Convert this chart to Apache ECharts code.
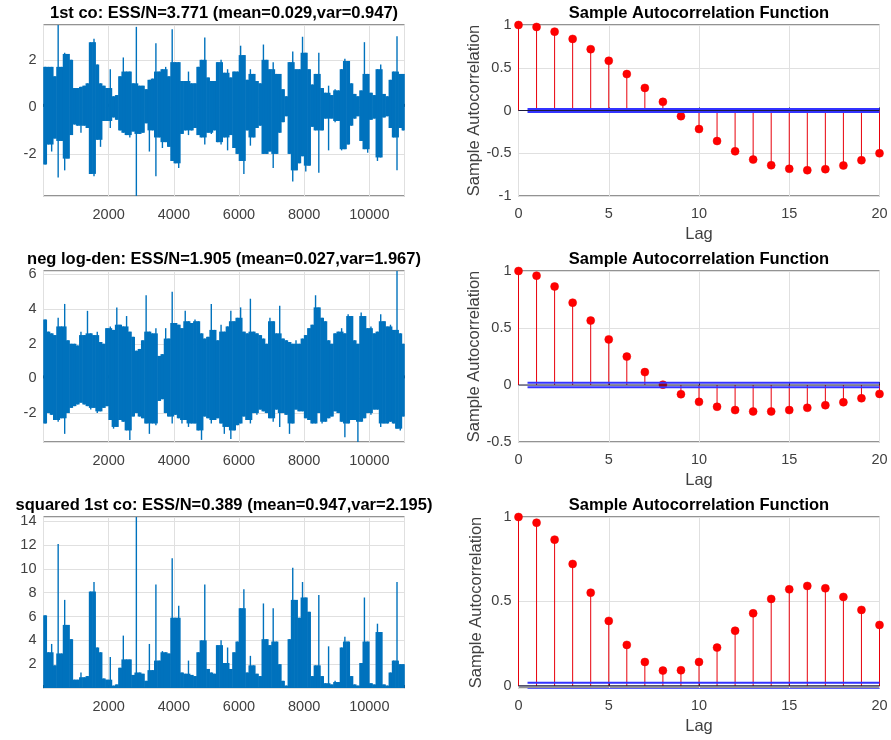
<!DOCTYPE html>
<html>
<head>
<meta charset="utf-8">
<script src="https://cdn.jsdelivr.net/npm/echarts@6/dist/echarts.min.js"></script>
<style>
html,body{margin:0;padding:0;background:#ffffff;}
#c{width:891px;height:740px;}
</style>
</head>
<body>
<div id="c"></div>
<script>
// ---------------- DATA ----------------
// Time series are summarised per bin of 100 samples: bin maximum and bin minimum.
const binSize = 100;
const lastSample = 11080;

const titlesLeft = [
  '1st co: ESS/N=3.771 (mean=0.029,var=0.947)',
  'neg log-den: ESS/N=1.905 (mean=0.027,var=1.967)',
  'squared 1st co: ESS/N=0.389 (mean=0.947,var=2.195)'
];
const titleRight = 'Sample Autocorrelation Function';

// 1st co
const hi1 = [
  1.7, 1.7, 1.7, 1.3, 3.48, 1.7, 2.3, 2.25, 2.0, 0.8,
  0.8, 0.85, 0.9, 1.0, 2.75, 2.9, 1.8, 1.0, 0.9, 0.8,
  1.6, 0.45, 0.5, 1.3, 2.1, 1.5, 1.5, 1.0, 3.4, 0.9,
  0.9, 0.75, 1.15, 1.2, 2.7, 1.5, 1.6, 1.7, 1.3, 3.3,
  1.9, 1.9, 1.1, 1.1, 1.5, 1.0, 1.0, 1.7, 2.0, 2.95,
  1.25, 1.1, 1.1, 1.9, 2.0, 1.45, 1.6, 1.25, 1.5, 1.5,
  2.6, 2.2, 1.15, 1.6, 1.4, 1.1, 1.0, 2.65, 2.0, 1.6,
  1.9, 1.4, 1.4, 0.75, 0.45, 1.9, 2.35, 1.6, 1.6, 2.98,
  2.3, 1.6, 0.95, 1.4, 2.3, 0.8, 0.6, 0.9, 0.5, 0.75,
  0.7, 1.6, 2.05, 1.95, 1.0, 0.55, 0.45, 0.7, 2.75, 1.4,
  0.6, 0.5, 1.6, 1.8, 0.55, 0.45, 1.15, 1.5, 3.0, 1.4, 1.4
];
const lo1 = [
  -2.45, -1.6, -1.9, -1.35, -3.0, -1.45, -2.7, -2.2, -1.2, -0.75,
  -0.8, -1.1, -0.8, -0.9, -2.85, -2.95, -1.4, -1.7, -0.6, -0.6,
  -0.9, -0.45, -0.55, -1.0, -1.1, -1.2, -1.3, -1.05, -3.79, -1.15,
  -1.1, -0.7, -1.9, -1.0, -2.95, -1.3, -1.75, -1.5, -1.7, -2.3,
  -2.4, -2.6, -1.15, -1.0, -1.2, -1.0, -0.9, -1.2, -1.3, -1.6,
  -1.1, -1.15, -1.0, -1.5, -1.6, -1.3, -1.85, -1.2, -1.75, -2.0,
  -2.3, -2.85, -1.0, -1.65, -1.3, -0.9, -0.8, -2.0, -2.0, -1.9,
  -2.6, -2.0, -1.1, -0.65, -0.4, -2.0, -3.17, -2.7, -2.4, -2.1,
  -2.75, -2.5, -0.85, -1.0, -2.8, -1.0, -0.5, -1.85, -0.5, -0.65,
  -0.6, -1.85, -1.8, -1.6, -0.8, -0.5, -0.4, -1.45, -1.8, -1.95,
  -0.55, -0.5, -2.3, -2.15, -0.45, -0.4, -0.9, -1.3, -2.7, -0.9, -1.0
];

// neg log-den
const hi2 = [
  3.4, 2.7, 2.6, 2.5, 3.5, 3.0, 4.3, 2.2, 2.0, 2.0,
  1.9, 2.7, 2.5, 3.9, 2.6, 2.5, 2.7, 2.1, 2.0, 2.9,
  3.0, 2.8, 4.1, 3.1, 3.0, 3.6, 2.7, 2.4, 1.6, 1.7,
  2.2, 4.8, 2.7, 2.6, 2.9, 1.3, 1.4, 2.9, 2.3, 5.0,
  3.2, 3.1, 2.9, 3.9, 3.3, 3.2, 3.4, 3.3, 2.6, 2.3,
  2.4, 4.3, 2.8, 2.2, 3.1, 2.7, 3.0, 3.9, 3.3, 3.5,
  4.1, 2.7, 2.6, 4.6, 2.7, 2.6, 2.5, 2.3, 2.0, 3.5,
  3.3, 2.6, 4.2, 2.3, 2.2, 2.1, 2.0, 2.2, 2.0, 2.3,
  2.5, 2.9, 3.1, 4.8, 4.1, 3.5, 3.3, 2.2, 2.0, 2.6,
  2.7, 2.9, 2.6, 3.7, 3.6, 2.2, 2.0, 3.8, 3.6, 2.9,
  3.0, 2.6, 2.7, 3.7, 3.3, 3.0, 3.1, 2.8, 6.2, 2.6, 2.0
];
const lo2 = [
  -2.6, -2.0, -2.1, -2.4, -2.5, -2.3, -3.2, -2.0, -1.7, -1.6,
  -1.5, -1.4, -1.5, -1.6, -1.8, -1.7, -2.0, -1.9, -1.7, -1.6,
  -2.4, -2.9, -2.8, -2.4, -2.5, -3.0, -3.55, -2.2, -2.0, -2.2,
  -2.3, -2.6, -3.2, -2.6, -2.7, -1.3, -1.2, -2.0, -2.2, -2.6,
  -2.1, -2.3, -2.6, -2.4, -2.8, -2.6, -2.6, -3.0, -3.55, -2.2,
  -2.3, -2.6, -2.4, -2.3, -2.6, -3.2, -2.8, -3.5, -3.0, -2.7,
  -2.6, -2.2, -2.4, -2.6, -2.0, -2.1, -1.8, -1.9, -2.0, -2.3,
  -2.5, -1.8, -2.8, -2.0, -2.1, -3.2, -2.6, -1.8, -1.9, -1.9,
  -2.3, -2.4, -2.6, -2.6, -2.0, -2.6, -2.5, -2.3, -2.2, -1.9,
  -2.0, -2.5, -3.4, -2.6, -2.4, -2.4, -3.67, -2.5, -2.3, -2.0,
  -2.1, -1.8, -1.8, -2.8, -2.6, -2.6, -2.5, -2.6, -2.9, -3.0, -2.2
];

// squared 1st co
const hi3 = [
  6.1, 3.0, 3.7, 1.9, 12.1, 2.9, 7.4, 5.3, 4.1, 0.7,
  0.7, 1.3, 0.9, 1.0, 8.1, 8.9, 3.4, 3.0, 0.8, 0.7,
  2.6, 0.2, 0.3, 1.7, 4.4, 2.4, 2.4, 1.1, 14.36, 1.3,
  1.2, 0.6, 3.7, 1.5, 8.7, 2.3, 3.1, 3.0, 2.9, 10.9,
  5.9, 6.9, 1.3, 1.2, 2.3, 1.1, 1.0, 3.0, 4.0, 8.7,
  1.6, 1.3, 1.2, 3.6, 4.0, 2.1, 3.4, 1.6, 3.0, 3.9,
  6.7, 8.3, 1.3, 2.7, 1.9, 1.2, 1.0, 7.1, 4.1, 3.6,
  6.7, 3.9, 2.0, 0.6, 0.2, 4.1, 10.1, 7.4, 5.9, 8.9,
  7.6, 6.4, 1.0, 1.9, 7.8, 1.0, 0.4, 3.5, 0.3, 0.6,
  0.5, 3.4, 4.3, 3.9, 1.0, 0.3, 0.2, 2.1, 7.6, 3.9,
  0.4, 0.3, 5.4, 4.7, 0.3, 0.2, 1.3, 2.3, 8.9, 2.0, 2.0
];
const lo3 = [
  0, 0, 0, 0, 0, 0, 0, 0, 0, 0,
  0, 0, 0, 0, 0, 0, 0, 0, 0, 0,
  0, 0, 0, 0, 0, 0, 0, 0, 0, 0,
  0, 0, 0, 0, 0, 0, 0, 0, 0, 0,
  0, 0, 0, 0, 0, 0, 0, 0, 0, 0,
  0, 0, 0, 0, 0, 0, 0, 0, 0, 0,
  0, 0, 0, 0, 0, 0, 0, 0, 0, 0,
  0, 0, 0, 0, 0, 0, 0, 0, 0, 0,
  0, 0, 0, 0, 0, 0, 0, 0, 0, 0,
  0, 0, 0, 0, 0, 0, 0, 0, 0, 0,
  0, 0, 0, 0, 0, 0, 0, 0, 0, 0, 0
];

// Sample autocorrelations, lags 0..20
const lags = [0,1,2,3,4,5,6,7,8,9,10,11,12,13,14,15,16,17,18,19,20];
const acf1 = [1, 0.977, 0.922, 0.837, 0.717, 0.581, 0.426, 0.264, 0.101, -0.066, -0.217,
              -0.357, -0.477, -0.574, -0.640, -0.682, -0.698, -0.686, -0.643, -0.581, -0.50];
const acf2 = [1, 0.959, 0.864, 0.722, 0.565, 0.400, 0.249, 0.113, 0.003, -0.081, -0.148,
              -0.191, -0.220, -0.232, -0.232, -0.220, -0.200, -0.177, -0.151, -0.116, -0.078];
const acf3 = [1, 0.966, 0.866, 0.722, 0.552, 0.385, 0.243, 0.142, 0.091, 0.093, 0.142,
              0.227, 0.327, 0.430, 0.515, 0.572, 0.592, 0.578, 0.527, 0.450, 0.361];
const acfBound = [0.019, -0.019];
const acfBoundStartLag = 0.5;
const acfYRange = [[-1, 1], [-0.5, 1], [-0.012, 1]];

// ---------------- CHART ----------------
const FONT = '"Liberation Sans", Arial, Helvetica, sans-serif';
const LABEL_COLOR = '#404040';
const AXIS_COLOR = '#262626';
const GRID_COLOR = '#e0e0e0';
const BLUE = '#0072BD';
const TICK_FS = 14.5, NAME_FS = 16.5, TITLE_FS = 16.5;

const leftX = 43.5, rightX = 518.5, plotW = 361, plotH = 171;
const rowTops = [25, 271, 517];
const titleTops = [4.5, 251, 496.5];
const NEEDLE_PX = 1.4;

const leftData = [[hi1, lo1], [hi2, lo2], [hi3, lo3]];
const leftSplit = [4, 5, 7];
const acfs = [acf1, acf2, acf3];

const grids = [], xAxes = [], yAxes = [], series = [], titles = [];

const multipleFmt = (step, hideBelow) => v => {
  if (hideBelow !== undefined && v <= hideBelow + 1e-9) return '';
  const q = v / step;
  return Math.abs(q - Math.round(q)) < 1e-7 ? String(+v.toFixed(6)) : '';
};

// Each bin: the part of its range shared with a neighbour is drawn full-width,
// the bin's own extreme beyond that is drawn as a thin needle (like a single sample spike).
function binItems(hi, lo) {
  return hi.map((h, i) => {
    const hp = i > 0 ? hi[i - 1] : h, hn = i < hi.length - 1 ? hi[i + 1] : h;
    const lp = i > 0 ? lo[i - 1] : lo[i], ln = i < lo.length - 1 ? lo[i + 1] : lo[i];
    const coreHi = Math.min(h, Math.max(hp, hn));
    const coreLo = Math.max(lo[i], Math.min(lp, ln));
    return [i * binSize, lo[i], h, coreLo, coreHi];
  });
}
function binRangeItem(params, api) {
  const start = api.value(0), lo = api.value(1), hi = api.value(2);
  const coreLo = api.value(3), coreHi = api.value(4);
  const end = Math.min(start + binSize, lastSample);
  const a = api.coord([start, coreLo]), b = api.coord([end, coreHi]);
  const top = api.coord([start, hi]), bot = api.coord([start, lo]);
  const cx = (a[0] + b[0]) / 2;
  const children = [
    {type: 'rect', shape: {x: a[0] - 0.3, y: b[1], width: b[0] - a[0] + 0.6, height: a[1] - b[1]},
      style: {fill: BLUE}},
    {type: 'rect', shape: {x: cx - NEEDLE_PX / 2, y: top[1], width: NEEDLE_PX, height: bot[1] - top[1]},
      style: {fill: BLUE}}
  ];
  return {type: 'group', children: children};
}

for (let r = 0; r < 3; r++) {
  const gl = 2 * r, gr = 2 * r + 1;
  grids.push({left: leftX, top: rowTops[r], width: plotW, height: plotH,
    show: true, borderColor: AXIS_COLOR, borderWidth: 1, backgroundColor: '#fff'});
  grids.push({left: rightX, top: rowTops[r], width: plotW, height: plotH,
    show: true, borderColor: AXIS_COLOR, borderWidth: 1, backgroundColor: '#fff'});

  // left: time series
  const [hi, lo] = leftData[r];
  const yMin = Math.min(...lo), yMax = Math.max(...hi);
  xAxes.push({
    gridIndex: gl, type: 'value', min: 0, max: lastSample, interval: 2000,
    axisLine: {show: false},
    axisTick: {show: true, inside: true, length: 3, lineStyle: {color: AXIS_COLOR}},
    axisLabel: {show: true, margin: 11, color: LABEL_COLOR, fontFamily: FONT, fontSize: TICK_FS,
      formatter: v => (v > 0 && v % 2000 === 0) ? String(v) : ''},
    splitLine: {show: true, lineStyle: {color: GRID_COLOR, width: 1}}
  });
  yAxes.push({
    gridIndex: gl, type: 'value', min: yMin, max: yMax,
    splitNumber: leftSplit[r],
    axisLine: {show: false},
    axisTick: {show: false},
    axisLabel: {show: true, margin: 7, color: LABEL_COLOR, fontFamily: FONT, fontSize: TICK_FS,
      formatter: multipleFmt(2, yMin)},
    splitLine: {show: true, lineStyle: {color: GRID_COLOR, width: 1}}
  });
  series.push({
    type: 'custom', xAxisIndex: gl, yAxisIndex: gl, clip: true, animation: false, silent: true,
    data: binItems(hi, lo),
    encode: {x: 0, y: [1, 2]},
    renderItem: binRangeItem, z: 3
  });
  titles.push({text: titlesLeft[r], left: leftX + plotW / 2, top: titleTops[r], textAlign: 'center', padding: 0,
    textStyle: {fontFamily: FONT, fontWeight: 'bold', fontSize: TITLE_FS, color: '#000'}});

  // right: ACF stem plot
  const [ymin, ymax] = acfYRange[r];
  xAxes.push({
    gridIndex: gr, type: 'value', min: 0, max: 20, interval: 5,
    name: 'Lag', nameLocation: 'middle', nameGap: 30,
    nameTextStyle: {fontFamily: FONT, fontSize: NAME_FS, color: LABEL_COLOR},
    axisLine: {show: false},
    axisTick: {show: true, inside: true, length: 3, lineStyle: {color: AXIS_COLOR}},
    axisLabel: {show: true, margin: 10, color: LABEL_COLOR, fontFamily: FONT, fontSize: TICK_FS},
    splitLine: {show: true, lineStyle: {color: GRID_COLOR, width: 1}}
  });
  const yAx = {
    gridIndex: gr, type: 'value', min: ymin, max: ymax,
    name: 'Sample Autocorrelation', nameLocation: 'middle', nameGap: 34,
    nameTextStyle: {fontFamily: FONT, fontSize: NAME_FS, color: LABEL_COLOR},
    axisLine: {show: false},
    axisTick: {show: false},
    axisLabel: {show: true, margin: 7, color: LABEL_COLOR, fontFamily: FONT, fontSize: TICK_FS,
      formatter: multipleFmt(0.5)},
    splitLine: {show: true, lineStyle: {color: GRID_COLOR, width: 1}}
  };
  if ((ymin / 0.5) === Math.round(ymin / 0.5)) yAx.interval = 0.5; else yAx.splitNumber = 2;
  yAxes.push(yAx);

  const acf = acfs[r];
  series.push({
    type: 'custom', xAxisIndex: gr, yAxisIndex: gr, clip: false, animation: false, silent: true,
    data: lags.map((l, i) => [l, acf[i]]),
    encode: {x: 0, y: 1},
    z: 3,
    renderItem: (params, api) => {
      const p0 = api.coord([api.value(0), 0]);
      const p1 = api.coord([api.value(0), api.value(1)]);
      return {type: 'group', children: [
        {type: 'line', shape: {x1: p0[0], y1: p0[1], x2: p1[0], y2: p1[1]},
          style: {stroke: '#e8000b', lineWidth: 1}},
        {type: 'circle', shape: {cx: p1[0], cy: p1[1], r: 4},
          style: {fill: '#ff0000', stroke: '#ee0000', lineWidth: 0.5}}
      ]};
    }
  });
  // stem baseline
  series.push({
    type: 'line', xAxisIndex: gr, yAxisIndex: gr, data: [[lags[0], 0], [lags[lags.length - 1], 0]],
    showSymbol: false, symbol: 'none', animation: false, silent: true,
    lineStyle: {color: '#1a1a40', width: 1.2}, z: 4
  });
  // confidence bounds
  acfBound.forEach(b => {
    series.push({
      type: 'line', xAxisIndex: gr, yAxisIndex: gr,
      data: [[acfBoundStartLag, b], [lags[lags.length - 1], b]],
      showSymbol: false, symbol: 'none', animation: false, silent: true, clip: true,
      lineStyle: {color: '#3333ff', width: 2}, z: 5
    });
  });
  titles.push({text: titleRight, left: rightX + plotW / 2, top: titleTops[r], textAlign: 'center', padding: 0,
    textStyle: {fontFamily: FONT, fontWeight: 'bold', fontSize: TITLE_FS, color: '#000'}});
}

const chart = echarts.init(document.getElementById('c'), null, {renderer: 'canvas'});
chart.setOption({
  backgroundColor: '#ffffff',
  animation: false,
  title: titles,
  grid: grids,
  xAxis: xAxes,
  yAxis: yAxes,
  series: series
});
</script>
</body>
</html>
